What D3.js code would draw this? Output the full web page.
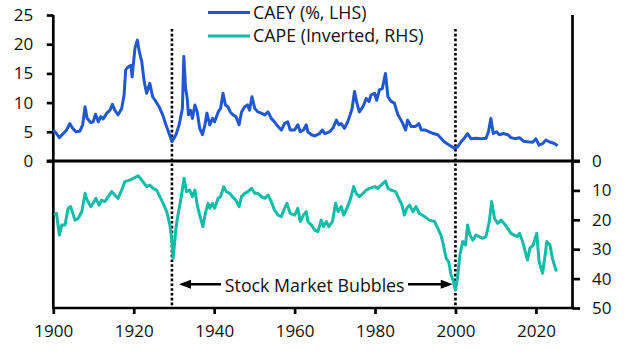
<!DOCTYPE html>
<html>
<head>
<meta charset="utf-8">
<script src="https://cdn.jsdelivr.net/npm/d3@7"></script>
<style>
  html, body { margin: 0; padding: 0; background: #fff; }
  svg { display: block; }
  text { font-family: "Open Sans", "Noto Sans", sans-serif; fill: #111; }
</style>
</head>
<body>
<svg id="chart" width="630" height="355"></svg>
<script>
// ---- Data ----
const caeyYears = [1900.0,1900.8,1901.5,1902.5,1903.3,1904.1,1904.8,1905.6,1906.6,1907.3,1907.9,1908.4,1909.3,1909.9,1910.5,1911.2,1911.8,1912.4,1913.3,1914.1,1914.7,1915.3,1916.1,1917.0,1917.6,1918.0,1918.6,1919.3,1919.6,1920.3,1920.9,1921.4,1922.0,1922.6,1923.2,1924.0,1924.7,1925.5,1926.3,1927.2,1928.0,1928.8,1929.5,1930.5,1931.3,1932.1,1932.45,1932.9,1933.3,1933.6,1934.1,1934.6,1935.2,1935.8,1936.4,1937.1,1937.7,1938.2,1938.9,1939.6,1940.1,1941.0,1941.6,1942.2,1942.8,1943.4,1944.0,1944.7,1945.4,1946.2,1946.8,1947.6,1948.3,1948.8,1949.4,1950.1,1950.9,1951.7,1952.6,1953.4,1954.2,1955.0,1955.9,1956.7,1957.5,1958.3,1958.9,1960.0,1960.8,1961.4,1962.2,1962.9,1963.3,1964.2,1965.0,1966.2,1966.9,1967.5,1968.7,1969.5,1970.4,1971.0,1971.6,1972.4,1973.2,1973.8,1974.3,1974.9,1975.5,1976.1,1977.0,1977.8,1978.5,1979.0,1979.9,1980.4,1981.1,1981.8,1982.6,1983.2,1984.0,1984.8,1985.7,1986.7,1987.6,1988.1,1989.0,1990.0,1990.9,1991.5,1992.5,1993.5,1994.5,1995.6,1996.4,1997.2,1998.5,1999.7,2000.5,2001.4,2002.2,2003.0,2003.9,2005.1,2006.4,2007.6,2008.2,2008.8,2009.4,2010.2,2010.9,2011.9,2013.0,2013.8,2014.9,2015.9,2016.9,2017.9,2019.2,2020.0,2020.8,2021.7,2022.5,2023.3,2024.6,2025.4];
const caeyValues = [5.3,4.7,4.0,4.7,5.3,6.4,5.6,5.0,5.1,6.2,9.3,7.3,6.6,6.7,8.0,6.7,7.6,7.2,8.2,8.7,9.7,8.7,7.9,9.0,11.3,15.6,16.1,16.4,14.4,19.3,20.7,18.7,17.0,13.6,11.6,13.3,11.0,10.2,9.3,7.9,6.2,4.7,3.3,4.5,6.2,9.0,17.9,12.4,10.7,7.9,8.7,7.3,9.6,8.4,5.6,4.5,6.2,8.2,6.2,7.3,6.7,8.4,9.0,11.6,9.6,9.3,8.4,7.9,7.6,6.2,8.4,9.3,9.6,8.7,11.0,9.0,8.4,8.2,7.9,8.4,7.3,6.7,5.9,5.3,6.4,6.7,5.3,5.3,6.2,5.0,5.3,6.2,5.0,4.5,4.3,4.7,5.3,4.7,5.0,5.6,7.0,6.2,6.4,5.6,6.7,7.9,9.0,11.9,9.9,8.4,9.3,10.7,10.2,11.3,11.6,10.4,12.2,12.4,15.0,11.0,10.2,9.9,7.9,6.7,5.3,7.0,5.9,5.9,6.4,5.3,5.3,5.0,4.7,4.5,3.9,3.3,2.7,2.2,2.4,3.3,3.9,4.7,3.8,3.9,3.8,3.9,5.0,7.3,4.7,5.0,4.5,4.7,4.5,4.0,3.8,4.0,3.4,3.3,3.2,3.8,2.7,3.0,3.6,3.3,3.0,2.6];

const capeYears = [1900.2,1900.8,1901.5,1902.1,1902.9,1903.7,1904.3,1905.0,1905.4,1906.2,1907.1,1907.9,1908.4,1909.3,1909.9,1910.6,1911.4,1912.0,1912.8,1913.7,1914.5,1915.3,1916.1,1917.0,1917.8,1919.0,1919.9,1921.1,1922.0,1923.2,1924.0,1924.8,1925.7,1926.5,1927.3,1928.2,1929.0,1929.5,1929.8,1930.5,1931.0,1931.9,1932.5,1933.1,1933.9,1934.6,1935.2,1935.8,1936.4,1937.2,1937.9,1938.5,1938.9,1939.6,1940.1,1941.0,1941.6,1942.4,1943.0,1943.9,1944.5,1945.4,1946.2,1946.8,1947.6,1948.4,1949.3,1950.1,1950.9,1951.7,1952.6,1953.4,1954.2,1955.0,1955.9,1956.7,1957.5,1958.1,1958.9,1960.0,1960.8,1961.4,1962.2,1962.9,1963.3,1964.2,1965.0,1965.8,1966.6,1967.2,1967.9,1968.5,1969.4,1970.2,1970.8,1971.6,1972.2,1973.0,1973.8,1974.7,1975.3,1976.1,1977.0,1977.8,1978.6,1979.9,1980.7,1981.5,1982.6,1983.2,1984.0,1985.1,1985.9,1986.7,1987.3,1987.9,1988.6,1989.4,1990.2,1991.0,1992.3,1993.5,1994.8,1995.6,1996.4,1996.8,1997.7,1998.3,1998.9,1999.5,2000.0,2000.5,2001.1,2001.8,2002.5,2003.0,2003.6,2004.3,2005.1,2005.9,2006.75,2007.6,2008.4,2009.0,2009.7,2010.5,2011.3,2012.1,2013.0,2013.8,2014.6,2015.4,2015.9,2016.7,2017.9,2018.5,2019.3,2020.2,2020.8,2021.65,2022.3,2022.7,2023.5,2024.1,2025.1];
const capeValues = [18.4,17.8,25.2,21.8,21.8,16.1,15.5,18.4,20.1,19.5,17.2,11.0,13.3,15.5,14.4,12.7,15.0,13.3,13.8,12.1,10.4,11.6,12.7,9.9,7.0,6.5,5.9,5.0,6.5,8.7,8.2,9.3,9.9,12.1,14.4,17.2,21.8,27.4,33.1,22.9,18.4,11.6,5.9,10.4,9.9,12.1,9.9,15.0,18.4,22.3,17.2,14.4,16.1,14.4,16.1,12.7,12.1,8.7,10.4,11.0,12.1,13.3,15.5,12.1,11.0,10.4,9.3,11.0,11.0,12.1,12.7,11.6,13.8,16.7,18.4,18.9,16.1,14.4,17.8,18.4,16.1,20.6,18.4,17.2,20.6,21.8,23.5,24.0,20.1,22.3,20.6,22.3,20.6,14.4,17.2,15.5,18.4,16.1,13.3,8.7,11.0,12.1,11.0,9.9,9.3,8.7,9.3,8.2,6.8,9.3,9.9,10.4,12.7,15.0,18.4,16.1,15.0,17.2,15.5,17.8,18.9,20.1,20.6,22.9,25.2,27.4,33.1,34.2,38.8,41.0,43.9,39.9,32.0,27.4,28.6,21.8,25.2,26.9,25.2,25.7,26.3,25.7,20.6,13.8,19.5,21.2,20.1,21.2,22.9,24.6,25.2,25.7,24.6,27.4,33.7,29.7,28.6,24.6,34.2,38.2,32.0,27.4,28.6,33.1,37.6];

const leftTicks = [0, 5, 10, 15, 20, 25];
const rightTicks = [0, 10, 20, 30, 40, 50];
const yearTicks = [1900, 1920, 1940, 1960, 1980, 2000, 2020];
const bubbleYears = [1929.5, 2000];
const seriesNames = ["CAEY (%, LHS)", "CAPE (Inverted, RHS)"];
const annotationText = "Stock Market Bubbles";

// ---- Drawing ----
const blue = "#2158d0", teal = "#12bca7";
const svg = d3.select("#chart");
const x = d3.scaleLinear().domain([1900, 2029.1]).range([53.3, 572.5]);
const yL = d3.scaleLinear().domain([0, 25]).range([161, 15]);
const yR = d3.scaleLinear().domain([0, 50]).range([161, 308]);
const FS = 17;
const FS2 = 17.8;
const AX = 2.7;

// axes
const gL = svg.append("g").attr("transform", `translate(${x(1900)},0)`)
  .call(d3.axisLeft(yL).tickValues(leftTicks).tickSize(6.5).tickPadding(13.5).tickSizeOuter(0));
const gR = svg.append("g").attr("transform", `translate(${x.range()[1]},0)`)
  .call(d3.axisRight(yR).tickValues(rightTicks).tickSize(7.5).tickPadding(12).tickSizeOuter(0));
const gB = svg.append("g").attr("transform", `translate(0,${yR(50)})`)
  .call(d3.axisBottom(x).tickValues(yearTicks).tickFormat(d3.format("d")).tickSize(6).tickPadding(10.5).tickSizeOuter(0));
[gL, gR, gB].forEach(g => {
  g.select(".domain").remove();
  g.selectAll(".tick line").attr("stroke", "#000").attr("stroke-width", AX);
  g.selectAll(".tick text").attr("font-size", FS).attr("font-family", "Open Sans").attr("fill", "#111");
});

// axis lines
svg.append("line").attr("x1", x(1900)).attr("x2", x(1900)).attr("y1", yL(25)).attr("y2", yR(50))
  .attr("stroke", "#000").attr("stroke-width", AX);
svg.append("line").attr("x1", x.range()[1]).attr("x2", x.range()[1]).attr("y1", yL(25)).attr("y2", yR(50))
  .attr("stroke", "#000").attr("stroke-width", AX);
svg.append("line").attr("x1", x(1900) - 1.3).attr("x2", x.range()[1] + 1.3).attr("y1", yR(50)).attr("y2", yR(50))
  .attr("stroke", "#000").attr("stroke-width", AX);
// zero line
svg.append("line").attr("x1", x(1900) - 6.5).attr("x2", x.range()[1] + 7.5).attr("y1", yL(0)).attr("y2", yL(0))
  .attr("stroke", "#000").attr("stroke-width", 3);

// dotted verticals
svg.selectAll(".bubble").data(bubbleYears).enter().append("line")
  .attr("x1", d => x(d)).attr("x2", d => x(d)).attr("y1", 29).attr("y2", yR(50))
  .attr("stroke", "#000").attr("stroke-width", 2.6).attr("stroke-dasharray", "2.6,2.2");

// series
const lineL = d3.line().x((d, i) => x(caeyYears[i])).y(d => yL(d));
const lineR = d3.line().x((d, i) => x(capeYears[i])).y(d => yR(d));
svg.append("path").attr("d", lineR(capeValues)).attr("fill", "none")
  .attr("stroke", teal).attr("stroke-width", 3).attr("stroke-linejoin", "round");
svg.append("path").attr("d", lineL(caeyValues)).attr("fill", "none")
  .attr("stroke", blue).attr("stroke-width", 3).attr("stroke-linejoin", "round");

// legend
const legend = svg.append("g");
[[blue, 12.5], [teal, 36]].forEach(([c, yy], i) => {
  legend.append("line").attr("x1", 208).attr("x2", 250).attr("y1", yy).attr("y2", yy)
    .attr("stroke", c).attr("stroke-width", 2.8);
  legend.append("text").attr("x", 253).attr("y", yy + 6.2).attr("font-size", FS2).text(seriesNames[i]);
});

// annotation
const ay = 284.3;
const ann = svg.append("g");
ann.append("text").attr("x", 314.7).attr("y", ay + 8).attr("text-anchor", "middle")
  .attr("font-size", FS2).text(annotationText);
const leftTip = x(bubbleYears[0]) + 7, rightTip = x(bubbleYears[1]) - 2.7;
ann.append("line").attr("x1", 221).attr("x2", leftTip + 10).attr("y1", ay).attr("y2", ay)
  .attr("stroke", "#000").attr("stroke-width", 2.6);
ann.append("path").attr("d", `M${leftTip},${ay} L${leftTip + 12},${ay - 4.5} L${leftTip + 12},${ay + 4.5} Z`).attr("fill", "#000");
ann.append("line").attr("x1", 408).attr("x2", rightTip - 10).attr("y1", ay).attr("y2", ay)
  .attr("stroke", "#000").attr("stroke-width", 2.6);
ann.append("path").attr("d", `M${rightTip},${ay} L${rightTip - 12},${ay - 4.5} L${rightTip - 12},${ay + 4.5} Z`).attr("fill", "#000");
</script>
</body>
</html>
